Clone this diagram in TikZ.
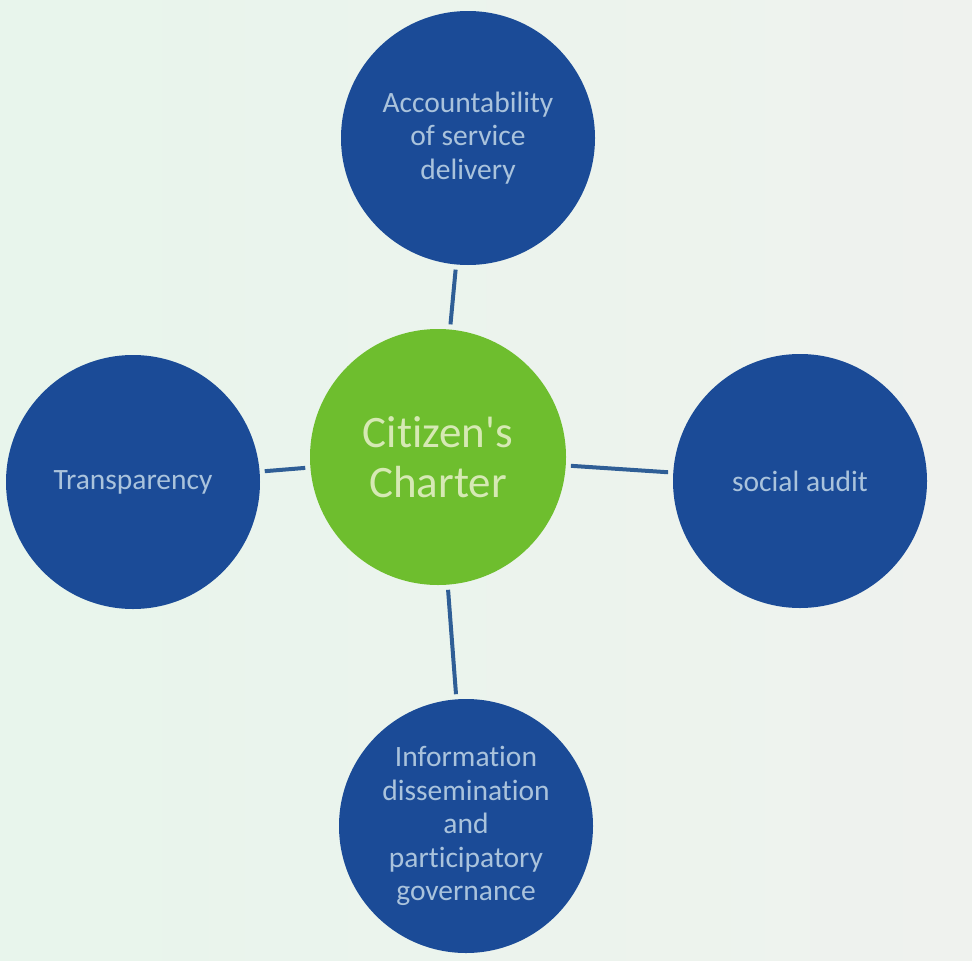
\documentclass[tikz,border=0pt]{standalone}
\usepackage{fontspec}
\setmainfont[Ligatures={NoCommon}]{Carlito}

\definecolor{topicblue}{HTML}{1B4B97}
\definecolor{hubgreen}{HTML}{6EBE2E}
\definecolor{spokeblue}{HTML}{2F5E96}
\definecolor{topictext}{HTML}{AAC3DC}
\definecolor{hubtext}{HTML}{D6E9B4}
\definecolor{paperleft}{HTML}{E8F5EC}
\definecolor{paperright}{HTML}{EFF2EE}

\begin{document}
\begin{tikzpicture}[x=1pt, y=-1pt,
    topic/.style={circle, fill=topicblue, minimum size=254pt, inner sep=0pt,
      align=center, text=topictext, font=\fontsize{29.5}{33.5}\selectfont},
    hub/.style={circle, fill=hubgreen, minimum size=256pt, inner sep=0pt,
      align=center, text=hubtext, font=\fontsize{45}{50}\selectfont},
    spoke/.style={draw=spokeblue, line width=4pt, shorten >=5pt, shorten <=5pt}]

  % paper
  \shade[left color=paperleft, right color=paperright] (0,0) rectangle (972,961);
  \useasboundingbox (0,0) rectangle (972,961);

  \node[hub] (charter) at (438, 457) {Citizen\textquotesingle s\\Charter};

  \node[topic] (account) at (468, 138) {Accountability\\of service\\delivery};
  \node[topic] (transp) at (133, 482) {Transparency};
  \node[topic] (audit) at (800, 481) {social audit};
  \node[topic] (info) at (466, 826) {Information\\dissemination\\and\\participatory\\governance};

  \draw[spoke] (account) -- (charter);
  \draw[spoke] (transp) -- (charter);
  \draw[spoke] (charter) -- (audit);
  \draw[spoke] (charter) -- (info);
\end{tikzpicture}
\end{document}
